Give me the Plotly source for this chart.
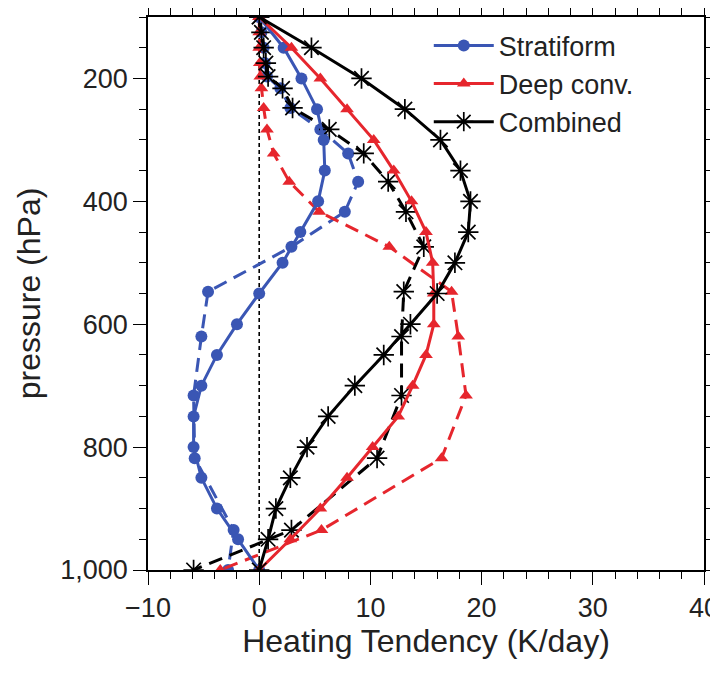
import plotly.graph_objects as go

# Regular levels (solid curves)
p_solid = [100, 150, 200, 250, 300, 350, 400, 450, 500, 550, 600, 650, 700, 750, 800, 850, 900, 950, 1000]
strat_solid = [0, 2.2, 3.8, 5.2, 5.8, 5.9, 5.3, 3.7, 2.1, 0, -2.0, -3.8, -5.2, -5.9, -5.9, -5.2, -3.8, -1.9, 0]
deep_solid = [0, 2.9, 5.5, 7.9, 10.3, 12.1, 13.7, 15.0, 15.6, 15.7, 15.7, 15.0, 13.8, 12.5, 10.2, 7.9, 5.5, 2.8, 0]
comb_solid = [0, 4.7, 9.2, 13.1, 16.3, 18.1, 19.0, 18.8, 17.6, 16.0, 13.6, 11.2, 8.6, 6.2, 4.3, 2.8, 1.5, 0.8, 0]

# Model levels (dashed curves)
p_dash = [100, 125, 150, 175, 197, 216, 248, 283, 322, 368, 417, 474, 547, 620, 716, 818, 935, 1000]
strat_dash = [0, 0.2, 0.4, 0.5, 0.7, 1.9, 2.8, 5.5, 8.0, 8.9, 7.7, 2.9, -4.6, -5.2, -5.9, -5.8, -2.3, -2.8]
deep_dash = [0, 0, 0, 0.05, 0.1, 0.2, 0.4, 0.7, 1.3, 2.7, 5.4, 11.7, 17.3, 17.9, 18.6, 16.4, 5.6, -3.5]
comb_dash = [0, 0.2, 0.4, 0.6, 0.8, 2.1, 3.0, 6.3, 9.4, 11.6, 13.2, 14.8, 13.0, 12.8, 12.8, 10.6, 2.9, -5.9]

names = ["Stratiform", "Deep conv.", "Combined"]
ytick_vals = [200, 400, 600, 800, 1000]
ytick_text = ["200", "400", "600", "800", "1,000"]
xtick_vals = [-10, 0, 10, 20, 30, 40]

BLUE = "rgb(58,86,180)"
RED = "rgb(230,38,45)"
BLACK = "black"
FONT = "Liberation Sans, Arial, Helvetica, sans-serif"
TXT = "#222"

fig = go.Figure()

# zero reference line
fig.add_trace(go.Scatter(x=[0, 0], y=[100, 1000], mode="lines",
                         line=dict(color="black", width=1.6, dash="4px,3px"),
                         showlegend=False, hoverinfo="skip"))

styles = [
    (strat_solid, strat_dash, BLUE, dict(symbol="circle", size=12, color=BLUE)),
    (deep_solid, deep_dash, RED, dict(symbol="triangle-up", size=12, color=RED)),
    (comb_solid, comb_dash, BLACK, dict(symbol="asterisk-open", size=17, color=BLACK,
                                        line=dict(color=BLACK, width=1.7))),
]

for (sol, das, col, mk), nm in zip(styles, names):
    fig.add_trace(go.Scatter(x=das, y=p_dash, mode="lines+markers",
                             line=dict(color=col, width=3, dash="14px,8px"),
                             marker=mk, showlegend=False))

for (sol, das, col, mk), nm in zip(styles, names):
    fig.add_trace(go.Scatter(x=sol, y=p_solid, mode="lines+markers", name=nm,
                             line=dict(color=col, width=3),
                             marker=mk))

axis_common = dict(showline=True, linecolor="black", linewidth=1.5, mirror="ticks",
                   ticks="outside", ticklen=13, tickwidth=1.3, tickcolor="black",
                   showgrid=False, zeroline=False, automargin=True,
                   ticklabeloverflow="allow",
                   tickfont=dict(size=27, color=TXT, family=FONT))

fig.update_xaxes(range=[-10, 40], tickvals=xtick_vals,
                 minor=dict(dtick=2, ticks="outside", ticklen=7, tickwidth=1.2, tickcolor="black"),
                 title=dict(text="Heating Tendency (K/day)", font=dict(size=32, color=TXT, family=FONT),
                            standoff=2),
                 **axis_common)
fig.update_yaxes(range=[1000, 100], tickvals=ytick_vals, ticktext=ytick_text,
                 minor=dict(tick0=100, dtick=50, ticks="outside", ticklen=7, tickwidth=1.2, tickcolor="black"),
                 title=dict(text="pressure (hPa)", font=dict(size=32, color=TXT, family=FONT),
                            standoff=10),
                 **axis_common)

# the page body adds an 8px offset; plot area spans x 148-704, y 17-570 in the window
fig.update_layout(
    width=718, height=674,
    margin=dict(l=140, r=22, t=9, b=112, autoexpand=False),
    plot_bgcolor="white", paper_bgcolor="white",
    font=dict(family=FONT, color=TXT),
    legend=dict(x=0.505, y=0.992, xanchor="left", yanchor="top",
                font=dict(size=27, color=TXT, family=FONT),
                bgcolor="rgba(0,0,0,0)", itemwidth=60),
)

fig.write_html("out.html")
